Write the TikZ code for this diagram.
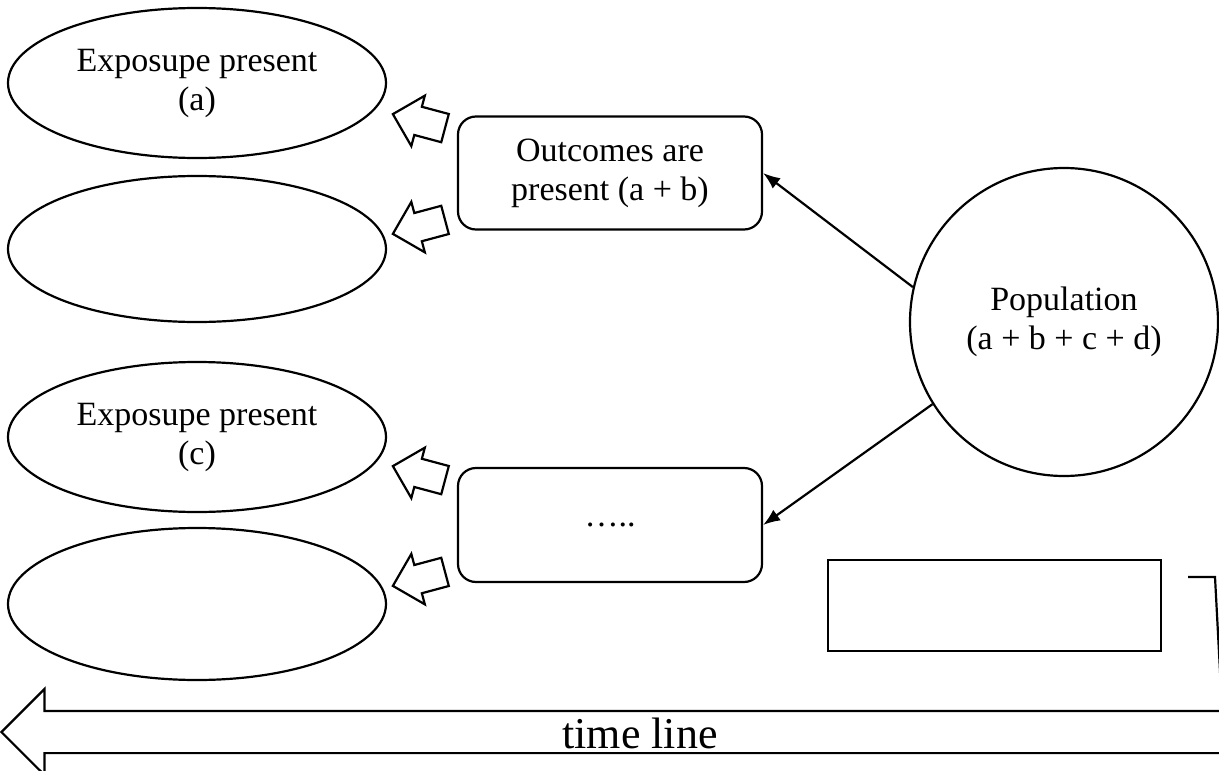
\documentclass[tikz,border=0pt]{standalone}
\usepackage{fontspec}
\setmainfont{Liberation Serif}
\usetikzlibrary{shapes.geometric,shapes.arrows,arrows.meta}

\tikzset{
  line/.style={line width=2.2pt, color=black},
  exposure/.style={line, draw, ellipse, minimum width=378pt, minimum height=150pt, inner sep=0pt, align=center},
  outcome/.style={line, draw, rectangle, rounded corners=18pt, minimum width=304pt, minimum height=113pt, align=center},
  blockarrow/.style={line, draw, single arrow, minimum height=54pt, inner xsep=0pt, inner ysep=13.5pt, single arrow head extend=11.5pt},
  link/.style={line, -{Latex[length=17pt,width=13pt]}}
}

\begin{document}
\begin{tikzpicture}[x=1pt,y=1pt,yscale=-1,xscale=1]
\fontsize{34}{39}\selectfont
\useasboundingbox (0,0) rectangle (1219,771);
\clip (0,0) rectangle (1219,771);
%Shape: Ellipse [exposure a]
\node [exposure] (expa) at (197,83) {Exposupe present\\(a)};
%Shape: Ellipse [exposure b]
\node [exposure, minimum height=146pt] (expb) at (197,249) {};
%Shape: Ellipse [exposure c]
\node [exposure] (expc) at (197,437) {Exposupe present\\(c)};
%Shape: Ellipse [exposure d]
\node [exposure, minimum height=152pt] (expd) at (197,604) {};

%Shape: Rounded Rect [outcome yes]
\node [outcome] (outyes) at (610,173) {Outcomes are\\present (a + b)};
%Shape: Rounded Rect [outcome no]
\node [outcome, minimum height=114pt] (outno) at (610,525) {…..};

%Shape: Circle [population]
\node [line, draw, circle, minimum size=308pt, inner sep=0pt, align=center] (pop) at (1064,322) {Population\\(a + b + c + d)};

%Shape: Rectangle
\node [line, draw, rectangle, minimum width=333pt, minimum height=91pt] (blank) at (994.5,605.5) {};

%Shape: Right Arrow [small]
\node [blockarrow, rotate=165] (ba) at (426,123) {};
\node [blockarrow, rotate=195] (bb) at (426,225) {};
\node [blockarrow, rotate=165] (bc) at (426,475) {};
\node [blockarrow, rotate=195] (bd) at (426,577) {};

%Shape: Right Arrow [time line]
\node [line, draw, single arrow, shape border rotate=180, minimum height=1256pt, single arrow head extend=22pt, inner sep=0pt, text height=36pt, text depth=4pt, font=\fontsize{44}{50}\selectfont] (time) at (640,732) {time line};

%Straight Lines
\draw [link] (pop.167) -- (outyes.east);
\draw [link] (pop.212) -- (outno.east);
%Elbow connector
\coordinate (elbow) at (1215,577);
\draw [line] (1188,577) -- (elbow) -- (1221,690);
\end{tikzpicture}
\end{document}
